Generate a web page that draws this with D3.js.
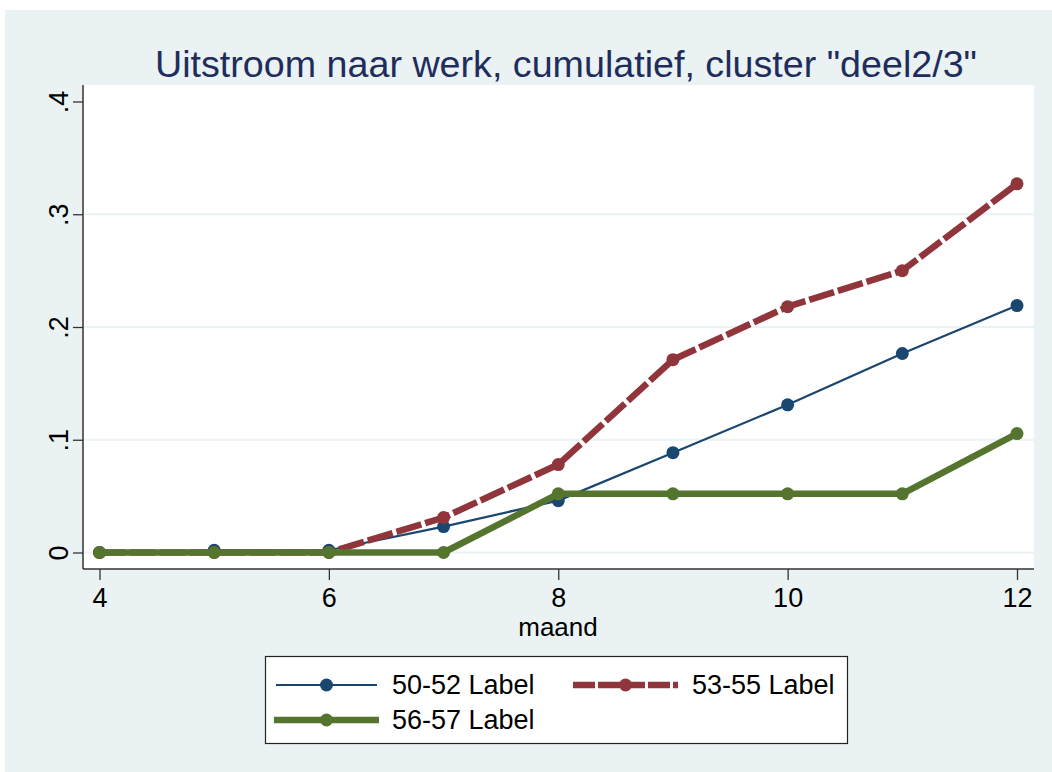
<!DOCTYPE html>
<html>
<head>
<meta charset="UTF-8">
<title>Uitstroom naar werk</title>
<script src="https://cdn.jsdelivr.net/npm/d3@7"></script>
<style>
  body { margin: 0; padding: 0; background: #fff; }
  text { font-family: "Liberation Sans", Arial, sans-serif; }
</style>
</head>
<body>
<script>
  // data
  var months = [4, 5, 6, 7, 8, 9, 10, 11, 12];
  var s5052 = [0, 0.002, 0.002, 0.023, 0.046, 0.0885, 0.131, 0.1765, 0.219];
  var s5355 = [0, 0, 0, 0.031, 0.078, 0.171, 0.218, 0.250, 0.327];
  var s5657 = [0, 0, 0, 0, 0.052, 0.052, 0.052, 0.052, 0.1055];
  var seriesNames = ["50-52 Label", "53-55 Label", "56-57 Label"];
  var xTicks = [4, 6, 8, 10, 12];
  var yTicks = [0, 0.1, 0.2, 0.3, 0.4];

  var w = 1052, h = 772;
  var plot = { left: 83, right: 1034, top: 85, bottom: 569 };

  var series = [
    { name: seriesNames[0], values: s5052, color: "#1a476f", width: 2.2, dash: null },
    { name: seriesNames[1], values: s5355, color: "#90353b", width: 6.5, dash: "26,4" },
    { name: seriesNames[2], values: s5657, color: "#55752f", width: 6.5, dash: null }
  ];

  var svg = d3.select("body").append("svg")
      .attr("width", w)
      .attr("height", h);

  // outer graph region
  svg.append("rect")
    .attr("x", 5).attr("y", 10)
    .attr("width", w - 5).attr("height", h - 10)
    .attr("fill", "#eaf2f3");

  svg.append("rect")
    .attr("x", plot.left).attr("y", plot.top)
    .attr("width", plot.right - plot.left).attr("height", plot.bottom - plot.top)
    .attr("fill", "#fff");

  var x = d3.scaleLinear().domain([4, 12]).range([99.5, 1017]);
  var y = d3.scaleLinear().domain([0, 0.4]).range([552.5, 101.5]);

  // grid
  svg.append("g").selectAll("line")
    .data(yTicks.slice(0, 4))
    .enter().append("line")
      .attr("x1", plot.left).attr("x2", plot.right)
      .attr("y1", d => y(d)).attr("y2", d => y(d))
      .attr("stroke", "#eaf2f3").attr("stroke-width", 2);

  // title
  svg.append("text")
    .attr("x", 566).attr("y", 77)
    .attr("text-anchor", "middle")
    .attr("font-size", 37)
    .attr("fill", "#1f2d5c")
    .attr("textLength", 822)
    .attr("lengthAdjust", "spacingAndGlyphs")
    .text('Uitstroom naar werk, cumulatief, cluster "deel2/3"');

  // axes
  var yAxis = d3.axisLeft(y).tickValues(yTicks).tickSize(10).tickPadding(8)
    .tickFormat(d => d === 0 ? "0" : d3.format(".1f")(d).replace(/^0/, ""));
  var gy = svg.append("g").attr("transform", "translate(" + plot.left + ",0)").call(yAxis);
  gy.select(".domain").attr("d", "M0," + plot.top + "V" + plot.bottom);

  var xAxis = d3.axisBottom(x).tickValues(xTicks).tickSize(11).tickPadding(8);
  var gx = svg.append("g").attr("transform", "translate(0," + plot.bottom + ")").call(xAxis);
  gx.select(".domain").attr("d", "M" + plot.left + ",0H" + plot.right);

  svg.selectAll(".domain").attr("stroke", "#333").attr("stroke-width", 1.5);
  svg.selectAll(".tick line").attr("stroke", "#333").attr("stroke-width", 1.3);
  svg.selectAll(".tick text")
    .attr("font-size", 27)
    .attr("fill", "#000")
    .style("font-family", '"Liberation Sans", Arial, sans-serif');

  gy.selectAll(".tick text")
    .attr("text-anchor", "middle")
    .attr("x", 0).attr("y", 0)
    .attr("dy", "0.35em")
    .attr("transform", "translate(-24,0) rotate(-90)");

  svg.append("text")
    .attr("x", 558).attr("y", 636)
    .attr("text-anchor", "middle")
    .attr("font-size", 26)
    .text("maand");

  // lines and markers
  var line = d3.line()
    .x((d, i) => x(months[i]))
    .y(d => y(d));

  series.forEach(function(s) {
    var g = svg.append("g");
    g.append("path")
      .datum(s.values)
      .attr("d", line)
      .attr("fill", "none")
      .attr("stroke", s.color)
      .attr("stroke-width", s.width)
      .attr("stroke-dasharray", s.dash)
      .attr("stroke-linejoin", "round");
    g.selectAll("circle")
      .data(s.values)
      .enter().append("circle")
        .attr("cx", (d, i) => x(months[i]))
        .attr("cy", d => y(d))
        .attr("r", 6.5)
        .attr("fill", s.color);
  });

  // legend
  var leg = svg.append("g");
  leg.append("rect")
    .attr("x", 265.5).attr("y", 656.5)
    .attr("width", 582).attr("height", 87)
    .attr("fill", "#fff").attr("stroke", "#222").attr("stroke-width", 1.2);

  var legPos = [
    { sx: 276, ex: 377, tx: 392, ty: 685 },
    { sx: 573, ex: 678, tx: 692, ty: 685 },
    { sx: 274, ex: 379, tx: 392, ty: 720 }
  ];

  series.forEach(function(s, i) {
    var p = legPos[i];
    leg.append("line")
      .attr("x1", p.sx).attr("x2", p.ex)
      .attr("y1", p.ty).attr("y2", p.ty)
      .attr("stroke", s.color)
      .attr("stroke-width", s.width)
      .attr("stroke-dasharray", s.dash ? "22,3" : null);
    leg.append("circle")
      .attr("cx", (p.sx + p.ex) / 2).attr("cy", p.ty)
      .attr("r", 6.5).attr("fill", s.color);
    leg.append("text")
      .attr("x", p.tx).attr("y", p.ty)
      .attr("dy", "0.35em")
      .attr("font-size", 27)
      .text(s.name);
  });
</script>
</body>
</html>
